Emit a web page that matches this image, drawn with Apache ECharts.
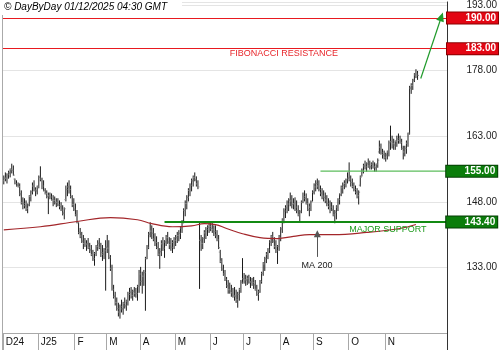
<!DOCTYPE html>
<html><head><meta charset="utf-8">
<script src="https://cdn.jsdelivr.net/npm/echarts@6/dist/echarts.min.js"></script>
<style>html,body{margin:0;padding:0;background:#fff}#c{width:500px;height:350px}</style>
</head><body><div id="c"></div>
<script>
// ---- data ----
const startDate = '2024-12-02';   // first trading day shown
const slotCount = 279;            // weekday slots on the axis (data + empty space to the right)
const headerText = '\u00a9 DayByDay 01/12/2025 04:30 GMT';

const opens = [
152.8,153.4,153.4,154.2,154.6,155.4,155.2,153.2,152.2,151.8,
151.5,149.8,147.8,147.6,147.1,146.5,147.3,149.2,150.3,151.6,
150.7,150.5,151.4,153.6,153.2,151.6,150.6,149.9,149.2,149.4,
149.1,148.5,148.3,147.8,147.9,147.3,146.9,146.1,145.4,148.5,
150.8,151.4,150.8,149.2,147.4,146.3,145.0,143.2,141.0,140.2,
139.0,138.5,138.2,138.4,137.6,137.0,135.9,135.0,136.2,137.8,
138.5,137.6,136.4,136.0,136.8,137.6,137.4,135.2,132.8,128.0,
126.4,125.0,123.6,122.8,124.0,123.5,124.8,124.2,125.3,126.8,
127.3,126.6,127.5,127.1,127.0,128.7,131.5,129.8,131.0,131.8,
135.0,137.6,140.6,141.3,140.8,139.5,138.7,137.6,136.0,136.6,
138.4,137.4,138.8,139.8,138.8,138.2,137.6,138.7,139.2,139.8,
140.3,140.8,142.0,143.5,146.0,147.6,149.0,150.6,151.8,152.8,
153.5,153.0,152.1,142.8,139.2,138.5,139.6,140.9,141.7,142.2,
142.4,141.9,141.6,141.2,140.4,139.3,136.5,134.4,132.6,131.5,
130.2,128.8,127.9,127.6,127.2,126.6,126.4,125.6,126.8,128.0,
129.6,130.4,130.2,130.1,130.4,129.6,129.7,129.5,129.0,128.0,
126.8,127.4,129.8,131.6,133.8,135.0,136.0,137.0,138.8,140.0,
139.0,137.8,136.8,137.8,139.8,141.8,143.8,145.9,146.6,147.5,
148.4,148.2,147.4,147.6,146.8,146.0,145.0,145.7,147.9,149.2,
148.8,147.6,146.2,146.8,148.0,150.2,151.4,152.2,151.6,150.8,
150.0,149.3,149.0,148.4,147.6,146.9,146.8,146.1,145.0,145.6,
146.8,148.5,149.6,151.2,151.8,152.2,153.0,153.4,153.2,152.4,
151.5,150.8,150.2,149.4,151.8,153.9,155.2,156.2,156.0,156.7,
156.2,156.0,156.6,156.1,155.8,156.6,159.4,160.5,159.2,158.8,
158.2,158.7,159.4,161.5,161.8,161.3,161.0,161.8,162.4,162.0,
161.6,160.2,159.4,160.2,161.4,163.7,174.0,174.6,175.8,177.0,
177.2];
const highs = [
153.9,154.6,154.4,155.0,155.5,156.6,156.2,153.2,152.8,152.3,
152.1,150.5,148.9,148.7,148.2,147.5,149.4,150.5,152.3,152.8,
151.2,151.6,153.9,156.0,153.4,152.8,151.0,150.5,150.0,150.0,
149.8,149.4,149.1,148.7,148.7,148.2,147.8,147.1,146.6,151.6,
152.3,152.8,151.6,149.4,148.7,147.5,146.0,143.2,141.9,141.0,
140.3,139.6,139.1,139.6,138.5,138.0,136.9,136.4,138.0,139.1,
139.6,138.5,138.0,137.3,139.1,140.3,139.1,135.7,133.5,128.9,
127.3,126.0,124.8,124.4,125.5,125.0,126.0,125.5,127.3,128.2,
128.4,127.8,128.4,128.2,128.9,132.3,133.0,131.9,132.3,135.3,
138.0,141.0,143.2,142.5,141.9,140.7,140.0,138.7,137.3,139.1,
139.8,139.1,140.3,141.0,139.8,139.6,139.1,139.8,140.3,141.0,
141.4,142.3,143.7,146.4,148.2,149.4,151.0,152.1,153.2,153.9,
154.6,153.7,152.8,143.2,140.3,139.8,141.4,142.1,142.5,143.2,
143.2,143.0,142.5,142.5,141.4,140.3,136.9,135.0,133.5,132.3,
130.7,130.0,129.4,128.9,128.2,128.4,127.8,127.3,128.2,130.0,
135.0,131.6,131.2,131.0,131.2,130.7,130.5,130.7,130.0,128.9,
127.8,130.0,131.9,134.1,135.3,136.4,137.3,139.1,140.3,141.0,
139.8,139.1,138.0,140.3,142.1,144.1,146.4,147.1,148.2,148.7,
150.0,149.4,148.7,148.9,148.2,147.1,146.0,148.2,150.0,150.5,
149.8,148.7,147.5,148.2,150.5,152.1,152.8,153.2,152.8,151.6,
151.0,150.5,150.0,149.4,148.7,148.2,147.8,147.1,146.0,147.1,
148.7,149.8,151.6,152.3,152.8,153.2,154.6,156.9,153.9,153.2,
152.3,151.6,151.0,150.5,153.9,155.5,156.6,157.3,156.9,157.8,
157.3,156.9,157.3,156.9,156.6,157.8,161.9,161.2,160.0,159.6,
159.1,159.6,161.9,165.3,163.0,162.3,161.9,163.0,163.5,163.0,
162.3,160.7,160.7,161.9,163.7,174.4,175.0,176.0,177.3,178.2,
177.8];
const lows = [
152.1,152.8,152.3,153.4,153.7,154.6,154.1,152.1,151.6,151.4,
149.4,147.5,146.4,146.6,146.0,145.5,147.1,148.2,149.8,150.5,
149.4,149.8,151.2,152.8,151.0,150.5,149.8,148.9,145.3,148.7,
148.4,147.1,147.5,146.9,147.1,146.4,146.0,145.0,144.1,148.2,
149.4,150.0,148.9,146.9,146.0,144.8,143.2,140.7,139.8,138.7,
137.3,137.8,136.9,137.3,136.4,135.7,134.6,133.5,135.7,136.9,
137.3,135.5,134.6,135.0,127.8,136.4,135.0,132.3,127.8,126.0,
124.4,123.2,121.9,121.4,122.8,122.3,123.7,123.2,124.4,125.5,
126.0,125.5,126.4,126.2,125.5,127.3,128.9,127.1,128.9,123.2,
135.0,137.3,140.0,139.6,139.1,138.0,137.3,135.7,132.8,135.7,
136.9,135.3,138.0,138.5,137.3,136.9,136.4,137.3,138.0,138.7,
139.1,139.6,141.0,143.2,144.8,146.4,148.2,149.4,150.5,151.6,
152.8,151.6,151.0,128.2,136.9,137.3,138.7,139.6,140.3,141.0,
141.4,141.0,140.3,139.8,139.1,137.3,134.1,132.3,131.2,130.0,
128.4,127.1,127.1,126.4,126.2,125.5,125.0,123.9,125.5,127.3,
129.4,129.4,128.9,129.1,129.4,128.4,128.9,128.2,127.8,126.6,
125.5,127.3,129.4,131.2,132.3,134.1,135.0,136.4,138.0,138.7,
137.3,136.4,133.9,136.9,139.1,141.0,143.2,144.4,145.5,146.0,
147.1,146.6,146.4,146.0,145.5,144.8,143.7,145.5,147.8,148.2,
147.5,146.0,144.8,146.0,148.2,149.8,150.5,151.0,150.5,149.4,
148.7,148.2,147.8,147.1,146.4,145.5,146.0,144.8,143.2,144.1,
146.0,147.5,149.4,150.0,151.0,151.4,152.3,152.8,151.6,151.2,
150.5,149.8,148.9,147.5,151.6,153.9,154.6,155.5,155.0,155.9,
155.5,155.5,155.7,155.0,155.0,155.9,159.1,158.9,158.0,157.8,
157.3,157.8,158.5,160.0,160.3,160.0,160.0,160.7,161.4,161.4,
160.0,157.8,158.5,159.1,160.7,163.5,172.8,173.7,175.5,176.4,
176.0];
const closes = [
153.4,153.4,154.2,154.6,155.4,155.2,154.1,152.2,151.8,151.5,
149.8,147.8,147.6,147.1,146.5,147.3,149.2,150.3,151.6,150.7,
150.5,151.4,153.6,153.2,151.6,150.6,149.9,149.2,149.4,149.1,
148.5,148.3,147.8,147.9,147.3,146.9,146.1,145.4,146.4,150.8,
151.4,150.8,149.2,147.4,146.3,145.0,143.4,141.0,140.2,139.0,
138.5,138.2,138.4,137.6,137.0,135.9,135.0,136.2,137.8,138.5,
137.6,136.4,136.0,136.8,137.6,137.4,135.2,132.8,128.0,126.4,
125.0,123.6,122.8,124.0,123.5,124.8,124.2,125.3,126.8,127.3,
126.6,127.5,127.1,127.0,128.7,131.5,129.8,131.0,131.8,135.0,
137.6,140.6,141.3,140.8,139.5,138.7,137.6,136.0,136.6,138.4,
137.4,138.8,139.8,138.8,138.2,137.6,138.7,139.2,139.8,140.3,
140.8,142.0,143.5,146.0,147.6,149.0,150.6,151.8,152.8,153.5,
153.0,152.1,151.4,139.2,138.5,139.6,140.9,141.7,142.2,142.4,
141.9,141.6,141.2,140.4,139.3,137.5,134.4,132.6,131.5,130.2,
128.8,127.9,127.6,127.2,126.6,126.4,125.6,126.8,128.0,129.6,
130.4,130.2,130.1,130.4,129.6,129.7,129.5,129.0,128.0,126.8,
127.4,129.8,131.6,133.8,135.0,136.0,137.0,138.8,140.0,139.0,
137.8,136.8,137.8,139.8,141.8,143.8,145.9,146.6,147.5,148.4,
148.2,147.4,147.6,146.8,146.0,145.0,145.7,147.9,149.2,148.8,
147.6,146.2,146.8,148.0,150.2,151.4,152.2,151.6,150.8,150.0,
149.3,149.0,148.4,147.6,146.9,146.8,146.1,145.0,145.6,146.8,
148.5,149.6,151.2,151.8,152.2,153.0,153.4,153.2,152.4,151.5,
150.8,150.2,149.4,150.2,153.6,155.2,156.2,156.0,156.7,156.2,
156.0,156.6,156.1,155.8,156.6,157.5,160.5,159.2,158.8,158.2,
158.7,159.4,161.5,161.8,161.3,161.0,161.8,162.4,162.0,161.6,
160.2,159.4,160.2,161.4,163.4,174.0,174.6,175.8,177.0,177.2,
176.9];

// 200-day moving average, read at points along the line (category index, value)
const maIdx = [0,23,46,67,84,93,106,118,126,133,140,150,161,172,182,192,207,228,249,259];
const maVal = [141.6,142.3,143.5,144.4,143.9,143.0,142.3,142.5,143.0,142.8,141.9,140.7,139.8,139.6,140.1,140.5,140.5,141.0,141.9,142.8];

// price axis
const yMin = 118, yMax = 193.7, yStep = 15;   // ticks 133,148,163,178,193

// levels
const resistanceLevels = [190, 183];
const supportLevels = [155, 143.4];
const supportStartIdx = [199, 101];

// annotations [index, price]
const fiboLabelAt = [142, 181.9];
const majorSupportAt = [217, 141.6];
const maLabelAt = [187, 133.5];
const maArrow = [[197, 135.4], [197, 140.7]];
const targetArrow = [[262, 176.2], [275, 190.3]];

// ---- build ----
const monthLetters = ['J','F','M','A','M','J','J','A','S','O','N','D'];
const cats = [];
(function(){
  const d = new Date(startDate + 'T00:00:00Z');
  while (cats.length < slotCount) {
    const wd = d.getUTCDay();
    if (wd !== 0 && wd !== 6) cats.push(d.toISOString().slice(0,10));
    d.setUTCDate(d.getUTCDate() + 1);
  }
})();
const lastLabelIdx = closes.length - 2;
function isMonthStart(i){
  if (i > lastLabelIdx) return false;
  if (i === 0) return true;
  return cats[i].slice(5,7) !== cats[i-1].slice(5,7);
}
function monthLabel(val, i){
  const y = val.slice(2,4), m = +val.slice(5,7);
  if (i === 0 || m === 1) return monthLetters[m-1] + y;
  return monthLetters[m-1];
}

const ohlc = closes.map((c, i) => [i, opens[i], c, lows[i], highs[i]]);
const maData = maIdx.map((ix, k) => [ix, maVal[k]]);

const FONT = 'Liberation Sans, Arial, Helvetica, sans-serif';
function boxRich(bg, border){
  return { b: { backgroundColor: bg, borderColor: border, borderWidth: 1, color: '#fff',
      fontWeight: 'bold', fontSize: 10, fontFamily: FONT, width: 47, align: 'right',
      lineHeight: 11, height: 11, padding: [0, 2, 0, 2] } };
}
function boxLabel(text, bg, border){
  return { show: true, position: 'end', distance: 0, formatter: '{b|' + text + '}', rich: boxRich(bg, border) };
}

const markData = [];
resistanceLevels.forEach(v => {
  markData.push({ yAxis: v, lineStyle: { color: '#e8191f', width: 1, type: 'solid' },
    label: boxLabel(v.toFixed(2), '#e30613', '#8a0000') });
});
const grayArrow = { color: '#555', width: 1, type: 'solid' };
markData.push([
  { coord: maArrow[0], symbol: 'none', lineStyle: grayArrow, label: { show: false } },
  { coord: maArrow[1], symbol: 'triangle', symbolSize: [7, 7], lineStyle: grayArrow, label: { show: false } }
]);
const greenArrow = { color: '#1f9a2a', width: 1.2, type: 'solid' };
markData.push([
  { coord: targetArrow[0], symbol: 'none', lineStyle: greenArrow, label: { show: false } },
  { coord: targetArrow[1], symbol: 'triangle', symbolSize: [8, 9], lineStyle: greenArrow, label: { show: false } }
]);

const supportSeries = supportLevels.map((v, k) => {
  const thick = k === 1;
  const col = thick ? '#138a13' : '#5cbd5c';
  return {
    type: 'line', name: 'support ' + v, data: [[supportStartIdx[k], v], [slotCount - 1, v]],
    showSymbol: false, symbol: 'none', z: 4, silent: true, color: col,
    lineStyle: { color: col, width: thick ? 2 : 1.2 },
    endLabel: { show: true, distance: 0, formatter: '{b|' + v.toFixed(2) + '}', rich: boxRich('#0b7d0b', '#063f06') }
  };
});

const chart = echarts.init(document.getElementById('c'), null, { renderer: 'canvas' });
chart.setOption({
  animation: false,
  backgroundColor: '#fff',
  textStyle: { fontFamily: FONT },
  grid: { left: 3, right: 53, top: 0, bottom: 17, containLabel: false },
  xAxis: {
    type: 'category', data: cats, boundaryGap: true,
    axisLine: { show: true, lineStyle: { color: '#a8a8a8', width: 1 } },
    axisTick: { show: true, interval: (i) => isMonthStart(i), length: 17, lineStyle: { color: '#a8a8a8' } },
    axisLabel: { interval: (i) => isMonthStart(i), formatter: monthLabel, align: 'left',
      fontSize: 10, color: '#111', margin: 4, padding: [0, 0, 0, 2] },
    splitLine: { show: false }
  },
  yAxis: {
    type: 'value', position: 'right', min: yMin, max: yMax, interval: yStep,
    axisLine: { show: true, lineStyle: { color: '#333', width: 1 } },
    axisTick: { show: false },
    splitLine: { show: true, lineStyle: { color: '#e4e4e4', width: 1 } },
    axisLabel: { formatter: v => v.toFixed(2), align: 'right', margin: 50, fontSize: 10, color: '#222',
      showMinLabel: false, showMaxLabel: false }
  },
  series: [
    {
      type: 'custom', name: 'price', data: ohlc, z: 2,
      encode: { x: 0, y: [1, 2, 3, 4] },
      renderItem: function (params, api) {
        const i = api.value(0);
        const pO = api.coord([i, api.value(1)]);
        const pC = api.coord([i, api.value(2)]);
        const pL = api.coord([i, api.value(3)]);
        const pH = api.coord([i, api.value(4)]);
        const x = pH[0];
        return { type: 'group', children: [
          { type: 'line', shape: { x1: x, y1: pH[1] - 0.5, x2: x, y2: pL[1] + 0.5 }, style: { stroke: '#1a1a1a', lineWidth: 1 } },
          { type: 'line', shape: { x1: x - 1.4, y1: pO[1], x2: x, y2: pO[1] }, style: { stroke: '#8a8a8a', lineWidth: 1 } },
          { type: 'line', shape: { x1: x, y1: pC[1], x2: x + 1.4, y2: pC[1] }, style: { stroke: '#8a8a8a', lineWidth: 1 } }
        ] };
      }
    },
    {
      type: 'line', name: 'MA 200', data: maData, smooth: 0.4, showSymbol: false, z: 3,
      lineStyle: { color: '#a3262a', width: 1.2 },
      markLine: { silent: true, symbol: ['none', 'none'], animation: false, precision: 2, data: markData, z: 5 },
      markPoint: {
        silent: true, symbol: 'circle', symbolSize: 0, animation: false,
        data: [
          { coord: fiboLabelAt, label: { show: true, position: 'right', distance: 0, formatter: 'FIBONACCI RESISTANCE', color: '#e8262b', fontSize: 9 } },
          { coord: majorSupportAt, label: { show: true, position: 'right', distance: 0, formatter: 'MAJOR SUPPORT', color: '#1c9a1c', fontSize: 9 } },
          { coord: maLabelAt, label: { show: true, position: 'right', distance: 0, formatter: 'MA 200', color: '#222', fontSize: 9 } }
        ]
      }
    }
  ].concat(supportSeries),
  graphic: [
    { type: 'rect', shape: { x: 0, y: 0, width: 182, height: 13 }, style: { fill: '#fff' }, z: 100 },
    { type: 'text', x: 4, y: 2, z: 101, style: { text: headerText, font: 'italic 10px ' + FONT, fill: '#000' } },
    { type: 'line', shape: { x1: 2.5, y1: 15, x2: 2.5, y2: 350 }, style: { stroke: '#aaaaaa', lineWidth: 1 }, z: 50 },
    { type: 'line', shape: { x1: 447.5, y1: 333, x2: 447.5, y2: 350 }, style: { stroke: '#333', lineWidth: 1 }, z: 50 }
  ]
});
</script>
</body></html>
